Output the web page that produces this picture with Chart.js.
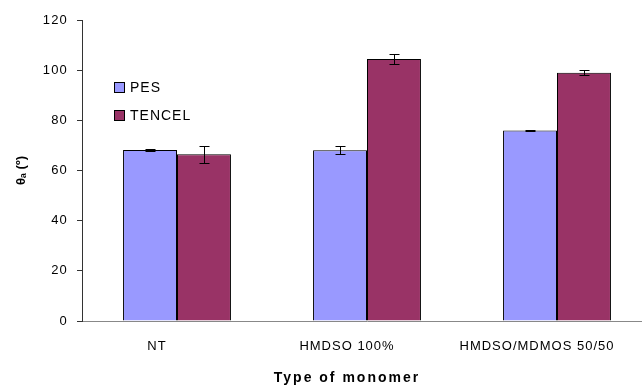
<!DOCTYPE html>
<html>
<head>
<meta charset="utf-8">
<script src="https://cdn.jsdelivr.net/npm/chart.js@4/dist/chart.umd.min.js"></script>
<style>
  html, body { margin: 0; padding: 0; background: #fff; overflow: hidden; }
  #wrap { width: 660px; height: 388px; }
</style>
</head>
<body>
<div id="wrap"><canvas id="chart" width="660" height="388"></canvas></div>
<script>
// Chart data
const categories = ['NT', 'HMDSO 100%', 'HMDSO/MDMOS 50/50'];
const pesValues = [68.2, 68.1, 75.9];
const pesErrors = [0.3, 1.7, 0.3];
const tencelValues = [66.5, 104.5, 99.0];
const tencelErrors = [3.4, 2.0, 1.1];
const yTicks = [0, 20, 40, 60, 80, 100, 120];

const FONT = '"Liberation Sans", Arial, sans-serif';

// wrap a scale draw method so its text gets letter spacing (and an optional x shift)
const spaced = (scale, method, spacing, dx = 0) => {
  const orig = scale[method];
  scale[method] = function (...args) {
    const ctx = this.ctx;
    ctx.save();
    ctx.letterSpacing = spacing;
    ctx.translate(dx, 0);
    orig.apply(this, args);
    ctx.restore();
  };
};

// error bars drawn from each dataset's errors array
const errorBarsPlugin = {
  id: 'errorBars',
  afterDatasetsDraw(chart) {
    const ctx = chart.ctx;
    const yScale = chart.scales.y;
    ctx.save();
    ctx.strokeStyle = '#000';
    ctx.lineWidth = 1;
    chart.data.datasets.forEach((ds, i) => {
      const meta = chart.getDatasetMeta(i);
      meta.data.forEach((bar, j) => {
        const v = ds.data[j];
        const e = ds.errors[j];
        const x = Math.round(bar.x) + 0.5;
        const yTop = Math.round(yScale.getPixelForValue(v + e)) + 0.5;
        const yBot = Math.round(yScale.getPixelForValue(v - e)) + 0.5;
        ctx.beginPath();
        ctx.moveTo(x, yTop);
        ctx.lineTo(x, yBot);
        ctx.moveTo(x - 5, yTop);
        ctx.lineTo(x + 5, yTop);
        ctx.moveTo(x - 5, yBot);
        ctx.lineTo(x + 5, yBot);
        ctx.stroke();
      });
    });
    ctx.restore();
  }
};

// legend inside the plot, top left
const innerLegendPlugin = {
  id: 'innerLegend',
  afterDraw(chart) {
    const ctx = chart.ctx;
    ctx.save();
    ctx.font = '14px ' + FONT;
    ctx.letterSpacing = '1px';
    ctx.textBaseline = 'middle';
    chart.data.datasets.forEach((ds, i) => {
      const y = 82 + i * 28;
      ctx.fillStyle = ds.backgroundColor;
      ctx.fillRect(114.5, y + 0.5, 10, 10);
      ctx.strokeStyle = '#000';
      ctx.lineWidth = 1;
      ctx.strokeRect(114.5, y + 0.5, 10, 10);
      ctx.fillStyle = '#000';
      ctx.fillText(ds.label, 130, y + 6);
    });
    ctx.restore();
  }
};

new Chart(document.getElementById('chart'), {
  type: 'bar',
  data: {
    labels: categories,
    datasets: [
      {
        label: 'PES',
        data: pesValues,
        errors: pesErrors,
        backgroundColor: '#9999FF',
        borderColor: '#000',
        borderWidth: 1
      },
      {
        label: 'TENCEL',
        data: tencelValues,
        errors: tencelErrors,
        backgroundColor: '#993366',
        borderColor: '#000',
        borderWidth: 1
      }
    ]
  },
  options: {
    responsive: false,
    animation: false,
    events: [],
    layout: { padding: { left: 0, top: 20, right: 8, bottom: 0 } },
    datasets: {
      bar: { categoryPercentage: 0.568, barPercentage: 1.0 }
    },
    plugins: {
      legend: { display: false },
      tooltip: { enabled: false }
    },
    scales: {
      x: {
        grid: { display: false, drawTicks: false },
        border: { color: '#888', width: 1 },
        ticks: {
          color: '#000',
          padding: 18,
          labelOffset: -20,
          maxRotation: 0,
          autoSkip: false,
          font: { family: FONT, size: 13 }
        },
        title: {
          display: true,
          text: 'Type of monomer',
          color: '#000',
          padding: { top: 0, bottom: 1 },
          font: { family: FONT, size: 14, weight: 'bold' }
        },
        afterFit(scale) { scale.height = 67; },
        afterUpdate(scale) {
          if (scale._spaced) return;
          scale._spaced = true;
          spaced(scale, 'drawLabels', '1px');
          spaced(scale, 'drawTitle', '2px', -20);
        }
      },
      y: {
        min: 0,
        max: 120,
        afterBuildTicks(scale) { scale.ticks = yTicks.map(v => ({ value: v })); },
        grid: { display: true, drawOnChartArea: false, drawTicks: true, tickLength: 5, tickColor: '#333' },
        border: { color: '#333', width: 1 },
        ticks: {
          color: '#000',
          padding: 9,
          font: { family: FONT, size: 13 }
        },
        title: {
          display: true,
          text: 'θₐ (º)',
          color: '#000',
          padding: { top: 14, bottom: 0 },
          font: { family: FONT, size: 13, weight: 'bold' }
        },
        afterFit(scale) { scale.width = 82; },
        afterUpdate(scale) {
          if (scale._spaced) return;
          scale._spaced = true;
          spaced(scale, 'drawLabels', '1.2px');
        }
      }
    }
  },
  plugins: [errorBarsPlugin, innerLegendPlugin]
});
</script>
</body>
</html>
